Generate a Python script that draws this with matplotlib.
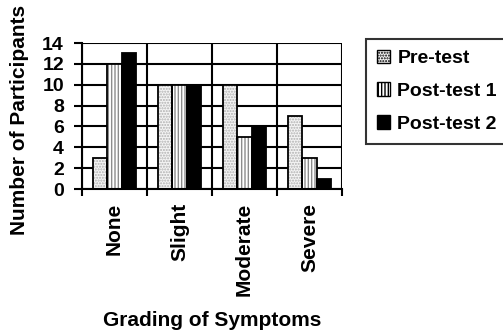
import matplotlib
matplotlib.use("Agg")
import matplotlib.pyplot as plt
import numpy as np
from matplotlib.patches import Patch

plt.rcParams['font.family'] = ['Liberation Sans', 'DejaVu Sans']
plt.rcParams['font.weight'] = 'bold'
plt.rcParams['hatch.linewidth'] = 1.0

categories = ["None", "Slight", "Moderate", "Severe"]
series_names = ["Pre-test", "Post-test 1", "Post-test 2"]
pre_test = [3, 10, 10, 7]
post_test_1 = [12, 10, 5, 3]
post_test_2 = [13, 10, 6, 1]
y_ticks = [0, 2, 4, 6, 8, 10, 12, 14]

series_values = [pre_test, post_test_1, post_test_2]
# face colour, hatch pattern, hatch colour for each series
styles = [
    ("#f4f4f4", "......", "#b0b0b0"),
    ("white", "|||||", "#8c8c8c"),
    ("black", "", "black"),
]

FS_BIG = 15
FS_SMALL = 14

fig = plt.figure(figsize=(5.03, 3.36), dpi=100)
ax = fig.add_axes([0.163, 0.4375, 0.517, 0.4345])

x = np.arange(len(categories))
width = 0.225
offsets = [-width, 0, width]

for vals, off, (fc, hatch, hc) in zip(series_values, offsets, styles):
    # hatched fill first, then a black outline on top
    ax.bar(x + off, vals, width, color=fc, edgecolor=hc, hatch=hatch,
           linewidth=0, zorder=3)
    ax.bar(x + off, vals, width, fill=False, edgecolor="black",
           linewidth=1.3, zorder=4)

ax.set_xlim(-0.5, len(categories) - 0.5)
ax.set_ylim(0, 14)
ax.set_yticks(y_ticks)
ax.set_xticks(x)
ax.set_xticklabels(categories, rotation=90, fontsize=FS_BIG, fontweight='bold')
ax.set_xticks(np.arange(len(categories) + 1) - 0.5, minor=True)
ax.tick_params(axis='x', which='major', length=0, pad=10)
ax.tick_params(axis='x', which='minor', length=5, width=1.5, direction='out')
ax.tick_params(axis='y', length=6, width=1.5, direction='out', pad=7,
               labelsize=FS_SMALL)
for lab in ax.get_yticklabels():
    lab.set_fontweight('bold')

ax.grid(axis='y', color='black', linewidth=1.5, zorder=1)
ax.grid(axis='x', which='minor', color='black', linewidth=1.5, zorder=1)
ax.set_axisbelow(True)

for side in ['top', 'right']:
    ax.spines[side].set_visible(False)
for side in ['left', 'bottom']:
    ax.spines[side].set_linewidth(1.5)
    ax.spines[side].set_zorder(5)

ax.set_ylabel("Number of Participants", fontsize=FS_BIG, fontweight='bold')
ax.set_xlabel("Grading of Symptoms", fontsize=FS_BIG, fontweight='bold',
              labelpad=11)
ax.yaxis.set_label_coords(-0.205, 0.473)

handles = [Patch(facecolor=fc, edgecolor='black', hatch=h, linewidth=1.0)
           for fc, h, hc in styles]
leg = fig.legend(handles, series_names, loc='upper left',
                 bbox_to_anchor=(0.728, 0.4, 0.30, 0.484),
                 bbox_transform=fig.transFigure, mode='expand',
                 frameon=True, fancybox=False, shadow=False,
                 borderaxespad=0, handlelength=0.7, handleheight=0.7,
                 handletextpad=0.35, labelspacing=0.78, borderpad=0.55,
                 prop={'weight': 'bold', 'size': FS_SMALL})
leg.get_frame().set_edgecolor('black')
leg.get_frame().set_linewidth(1.5)

fig.savefig("out.png", dpi=100)
